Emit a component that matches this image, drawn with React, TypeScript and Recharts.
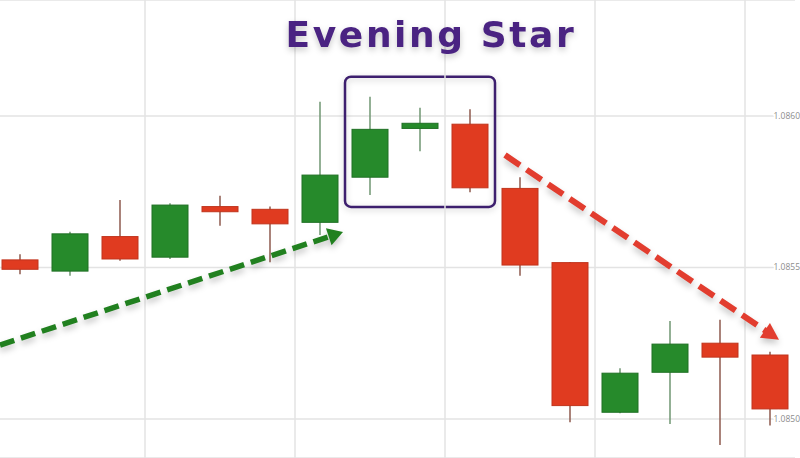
import React from 'react';
import { ComposedChart, Bar, XAxis, YAxis, CartesianGrid, ReferenceLine, ReferenceArea } from 'recharts';

const categories = ['1', '2', '3', '4', '5', '6', '7', '8', '9', '10', '11', '12', '13', '14', '15', '16'];
const opens = [1.085525, 1.085488, 1.085602, 1.085534, 1.085701, 1.085692, 1.085649, 1.085798, 1.085959, 1.085973, 1.085761, 1.085516, 1.085022, 1.085154, 1.08525, 1.085211];
const highs = [1.085544, 1.085618, 1.085723, 1.085712, 1.085737, 1.085701, 1.086047, 1.086064, 1.086027, 1.086022, 1.085798, 1.085518, 1.085167, 1.085323, 1.085327, 1.085222];
const lows = [1.085478, 1.085473, 1.085522, 1.085528, 1.085638, 1.085517, 1.085607, 1.085739, 1.085884, 1.085748, 1.085473, 1.084989, 1.085019, 1.084983, 1.084914, 1.084978];
const closes = [1.085494, 1.085611, 1.085528, 1.085706, 1.085684, 1.085644, 1.085805, 1.085956, 1.085976, 1.085763, 1.085508, 1.085044, 1.085151, 1.085247, 1.085204, 1.085033];

const yTicks = [1.085, 1.0855, 1.086];
const yDomain = [1.084871, 1.086383];
const gridX = [2.5, 5.5, 8.5, 11.5, 14.5];
const xDomain = [-0.5, 15.5];
const boxX = [6.5, 9.5];
const boxY = [1.0857, 1.08613];
const greenArrow = [{ x: -0.4, y: 1.085244 }, { x: 6.46, y: 1.085617 }];
const redArrow = [{ x: 9.7, y: 1.085871 }, { x: 15.18, y: 1.085261 }];
const title = 'Evening Star';

const data = categories.map((name, i) => ({
  name,
  idx: i,
  open: opens[i],
  high: highs[i],
  low: lows[i],
  close: closes[i],
}));

const RED = '#e03b20';
const GREEN = '#268a2b';

const Candle = (props: any) => {
  const { x, y, width, height } = props;
  const p = props.payload ?? props;
  const { open, close, high, low } = p;
  const up = close >= open;
  const k = height / (high - low);
  const py = (v: number) => y + (high - v) * k;
  const top = py(Math.max(open, close));
  const bot = py(Math.min(open, close));
  const cx = x + width / 2;
  return (
    <g>
      <line x1={cx} x2={cx} y1={y} y2={y + height} stroke={up ? '#6f9672' : '#8e5a4e'} strokeWidth={1.5} />
      <rect
        x={x}
        y={top}
        width={width}
        height={Math.max(bot - top, 1)}
        fill={up ? GREEN : RED}
        stroke={up ? '#1f7024' : '#c0341c'}
        strokeWidth={1}
      />
    </g>
  );
};

const makeArrow = (color: string, dash: string, sw: number, headLen: number, headHalf: number) => (props: any) => {
  const { x1, y1, x2, y2 } = props;
  const dx = x2 - x1;
  const dy = y2 - y1;
  const len = Math.hypot(dx, dy) || 1;
  const ux = dx / len;
  const uy = dy / len;
  const bx = x2 - ux * headLen;
  const by = y2 - uy * headLen;
  const px = -uy;
  const pyv = ux;
  const pts = `${x2},${y2} ${bx + px * headHalf},${by + pyv * headHalf} ${bx - px * headHalf},${by - pyv * headHalf}`;
  return (
    <g style={{ filter: 'drop-shadow(0px 4px 3px rgba(0,0,0,0.22))' }}>
      <line x1={x1} y1={y1} x2={bx + ux * 2} y2={by + uy * 2} stroke={color} strokeWidth={sw} strokeDasharray={dash} />
      <polygon points={pts} fill={color} />
    </g>
  );
};

const BoxShape = (props: any) => {
  const { x, y, width, height } = props;
  return (
    <rect
      x={x}
      y={y}
      width={width}
      height={height}
      rx={6}
      ry={6}
      fill="none"
      stroke="#3d1f6e"
      strokeWidth={2.5}
      style={{ filter: 'drop-shadow(0px 2px 3px rgba(0,0,0,0.2))' }}
    />
  );
};

const YTick = (props: any) => {
  const { x, y, payload } = props;
  return (
    <text
      x={x}
      y={y}
      dy={3}
      dx={5}
      textAnchor="end"
      fontSize={8.5}
      fontFamily="'Open Sans', sans-serif"
      fill="#8c8c8c"
      stroke="#ffffff"
      strokeWidth={4}
      paintOrder="stroke"
    >
      {Number(payload.value).toFixed(4)}
    </text>
  );
};

export default function App() {
  return (
    <div style={{ position: 'absolute', left: 0, top: 0, width: 800, height: 458, background: '#ffffff' }}>
      <ComposedChart width={800} height={458} data={data} margin={{ top: 0, right: 5, bottom: 0, left: -5 }}>
        <CartesianGrid vertical={false} stroke="#e3e3e3" strokeWidth={1.5} />
        <XAxis dataKey="name" hide />
        <XAxis xAxisId="g" dataKey="idx" type="number" domain={xDomain} allowDataOverflow hide />
        {gridX.map((v) => (
          <ReferenceLine key={v} x={v} xAxisId="g" stroke="#e3e3e3" strokeWidth={1.5} ifOverflow="visible" />
        ))}
        <Bar dataKey={(d: any) => [d.low, d.high]} barSize={36} shape={<Candle />} isAnimationActive={false} />
        <ReferenceArea
          xAxisId="g"
          x1={boxX[0]}
          x2={boxX[1]}
          y1={boxY[0]}
          y2={boxY[1]}
          ifOverflow="visible"
          shape={<BoxShape />}
        />
        <ReferenceLine
          xAxisId="g"
          segment={greenArrow}
          ifOverflow="visible"
          shape={makeArrow('#21801f', '15 7', 5.5, 15, 9)}
        />
        <ReferenceLine
          xAxisId="g"
          segment={redArrow}
          ifOverflow="visible"
          shape={makeArrow('#e23d2f', '18 8', 6, 17, 9)}
        />
        <YAxis
          orientation="right"
          mirror
          domain={yDomain}
          allowDataOverflow
          ticks={yTicks}
          axisLine={false}
          tickLine={false}
          tickSize={0}
          tickMargin={0}
          tick={<YTick />}
        />
      </ComposedChart>
      <svg width={800} height={80} style={{ position: 'absolute', left: 0, top: 0, pointerEvents: 'none' }}>
        <text
          x={431}
          y={47}
          textAnchor="middle"
          fontFamily="'DejaVu Sans', sans-serif"
          fontWeight="bold"
          fontSize={36}
          letterSpacing={2.6}
          fill="#4a2382"
          style={{ filter: 'drop-shadow(0px 3px 3px rgba(0,0,0,0.22))' }}
        >
          {title}
        </text>
      </svg>
    </div>
  );
}
